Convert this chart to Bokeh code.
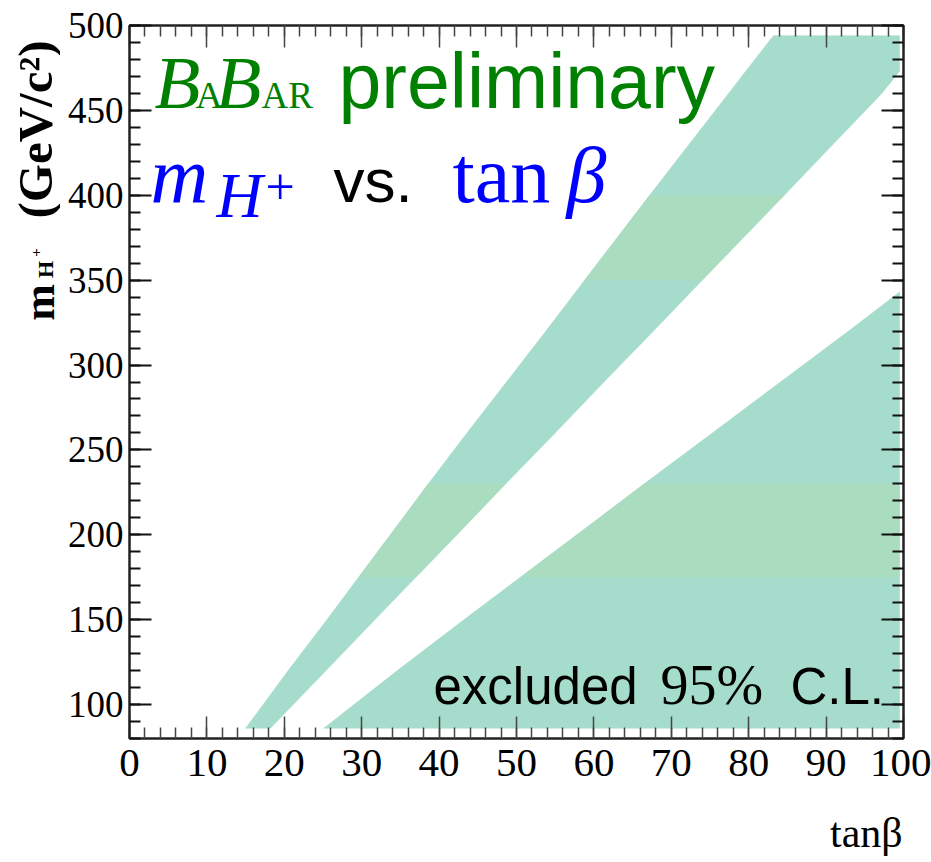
import numpy as np
from bokeh.plotting import figure
from bokeh.layouts import row
from bokeh.models import Range1d, LinearAxis, FixedTicker, Label
from bokeh.embed import file_html
from bokeh.resources import INLINE

# ---------------- data ----------------
# upper excluded band: for each m_H+ value, the tan(beta) of its left and right edges
upper_m = [86, 120, 150, 175, 200, 230, 260, 290, 320, 350, 375, 400, 430, 460, 473, 494]
upper_left = [15.0, 20.5, 25.5, 29.6, 33.7, 38.6, 43.6, 48.7, 53.8, 58.8, 63.0, 67.2, 72.3, 77.4, 79.6, 83.2]
upper_right = [18.2, 25.4, 31.7, 37.0, 42.3, 48.6, 55.0, 61.3, 67.7, 74.0, 79.3, 84.6, 90.9, 97.2, 99.5, 99.5]

# lower excluded region: left edge, right edge is the end of the scan
lower_m = [86, 120, 150, 175, 200, 230, 260, 290, 320, 343]
lower_left = [25.1, 34.6, 43.2, 50.5, 57.8, 66.5, 75.3, 84.1, 92.9, 99.5]
lower_right = [99.5, 99.5, 99.5, 99.5, 99.5, 99.5, 99.5, 99.5, 99.5, 99.5]

# m_H+ rows that are drawn in a slightly greener shade
greener_rows = [[175, 230], [350, 400]]

x_ticks = [0, 10, 20, 30, 40, 50, 60, 70, 80, 90, 100]
x_minor = list(range(0, 101, 2))
y_ticks = [100, 150, 200, 250, 300, 350, 400, 450, 500]
y_minor = list(range(80, 501, 10))
x_title = "tanβ"
x_title_at = 95.2   # tan(beta) value under which the x title is centred

BASE = "#a6dccb"
GREENER = "#aadcc0"
GREEN_TXT = "#008000"
BLUE_TXT = "#0000ff"

STRIP_W = 60
p = figure(width=931 - STRIP_W, height=862,
           x_range=Range1d(0, 100), y_range=Range1d(80, 500),
           output_backend="svg", toolbar_location=None,
           min_border_left=129 - STRIP_W, min_border_right=28,
           min_border_top=25, min_border_bottom=124)
p.xgrid.visible = False
p.ygrid.visible = False
p.outline_line_color = "#222222"
p.outline_line_width = 2
p.background_fill_color = "white"
p.border_fill_color = "white"


def band_piece(ms, lefts, rights, lo, hi):
    ms = np.asarray(ms, float)
    lo = max(lo, ms[0])
    hi = min(hi, ms[-1])
    inner = [m for m in ms if lo < m < hi]
    mm = np.array([lo] + inner + [hi])
    L = np.interp(mm, ms, lefts)
    R = np.interp(mm, ms, rights)
    xs = list(L) + list(R[::-1])
    ys = list(mm) + list(mm[::-1])
    return xs, ys


for ms, ls, rs in [(upper_m, upper_left, upper_right), (lower_m, lower_left, lower_right)]:
    xs, ys = band_piece(ms, ls, rs, ms[0], ms[-1])
    p.patch(xs, ys, fill_color=BASE, line_color=BASE, line_width=0.5)
    for lo, hi in greener_rows:
        if hi <= ms[0] or lo >= ms[-1]:
            continue
        xs, ys = band_piece(ms, ls, rs, lo, hi)
        p.patch(xs, ys, fill_color=GREENER, line_color=None)


def style_axis(ax, ticks, minor, labels, tick_w, tick_col):
    ax.ticker = FixedTicker(ticks=ticks, minor_ticks=minor)
    ax.major_tick_in = 22
    ax.major_tick_out = 0
    ax.minor_tick_in = 11
    ax.minor_tick_out = 0
    ax.axis_line_width = 2
    ax.axis_line_color = "#222222"
    ax.major_tick_line_width = tick_w
    ax.minor_tick_line_width = tick_w
    ax.major_tick_line_color = tick_col
    ax.minor_tick_line_color = tick_col
    if not labels:
        ax.major_label_overrides = {t: "" for t in ticks}
        ax.major_label_text_font_size = "1px"
        ax.major_label_standoff = 0


bottom = p.xaxis[0]
left = p.yaxis[0]
style_axis(bottom, x_ticks, x_minor, True, 1.5, "#444444")
style_axis(left, y_ticks, y_minor, True, 2, "#111111")
bottom.major_label_text_font = "Liberation Serif"
bottom.major_label_text_font_size = "41px"
bottom.major_label_text_color = "black"
bottom.major_label_standoff = 11
left.major_label_text_font = "Liberation Serif"
left.major_label_text_font_size = "37px"
left.major_label_text_color = "black"
left.major_label_standoff = 6

top = LinearAxis()
style_axis(top, x_ticks, x_minor, False, 1.5, "#444444")
p.add_layout(top, "above")
right = LinearAxis()
style_axis(right, y_ticks, y_minor, False, 2, "#111111")
p.add_layout(right, "right")

# x-axis title, right-aligned under the axis end: an outer axis with a single label
title_axis = LinearAxis(ticker=FixedTicker(ticks=[x_title_at], minor_ticks=[]),
                        major_label_overrides={x_title_at: x_title})
title_axis.axis_line_color = None
title_axis.major_tick_line_color = None
title_axis.minor_tick_line_color = None
title_axis.major_label_text_font = "Liberation Serif"
title_axis.major_label_text_font_size = "42px"
title_axis.major_label_text_color = "black"
title_axis.major_label_standoff = 25
p.add_layout(title_axis, "below")


# page pixel -> data coordinates for text placement inside the frame
def dx(px):
    return (px - 129) / 7.74


def dy(py):
    return 500 - (py - 25) / (713 / 420)


SHIFT = 0.35  # measured offset of the rendered baseline, in em


def plab(px, py, text, font, size, color, style="normal"):
    # px, py: left end of the text's baseline in page pixels
    p.add_layout(Label(x=dx(px), y=dy(py - SHIFT * size), text=text, text_font=font,
                       text_font_size=f"{size}px", text_font_style=style,
                       text_color=color, text_align="left",
                       text_baseline="alphabetic"))


# BaBar logo + "preliminary"
plab(154, 108, "B", "Liberation Serif", 75, GREEN_TXT, "italic")
plab(195, 108, "A", "Liberation Serif", 38, GREEN_TXT)
plab(215, 108, "B", "Liberation Serif", 75, GREEN_TXT, "italic")
plab(261, 108, "AR", "Liberation Serif", 37, GREEN_TXT)
plab(338, 107, "preliminary", "Liberation Sans", 77, GREEN_TXT)

# m_H+ vs. tan beta
plab(150, 202, "m", "Liberation Serif", 80, BLUE_TXT, "italic")
plab(216, 217, "H", "Liberation Serif", 64, BLUE_TXT, "italic")
plab(265, 204, "+", "Liberation Serif", 52, BLUE_TXT)
plab(333, 202, "vs.", "Liberation Sans", 62, "black")
plab(452, 202, "tan", "Liberation Serif", 80, BLUE_TXT)
plab(566, 202, "β", "Liberation Serif", 80, BLUE_TXT, "italic")

# excluded 95% C.L.
plab(433, 704, "excluded", "Liberation Sans", 51, "black")
plab(660, 704, "95%", "Liberation Serif", 56, "black")
plab(790, 704, "C.L.", "Liberation Sans", 51, "black")

# y-axis title in its own narrow strip; its frame is aligned with the main
# frame (page y 25..738) and its data coords are page pixels
strip = figure(width=STRIP_W, height=862, frame_width=STRIP_W, frame_height=713,
               x_range=Range1d(0, STRIP_W), y_range=Range1d(738, 25),
               x_axis_type=None, y_axis_type=None,
               output_backend="svg", toolbar_location=None,
               min_border_left=0, min_border_right=0,
               min_border_top=25, min_border_bottom=124)
strip.outline_line_color = None
strip.background_fill_color = "white"
strip.border_fill_color = "white"


def slab(cx, cy, text, size, style="bold"):
    # cx, cy: centre of the rotated text in page pixels
    strip.add_layout(Label(x=cx, y=cy, text=text, text_font="Liberation Serif",
                           text_font_size=f"{size}px", text_font_style=style,
                           text_color="black", text_align="center",
                           text_baseline="middle", angle=np.pi / 2))


slab(39, 302, "m", 44)
slab(45, 269, "H", 22)
slab(35, 252, "+", 15)
slab(35, 129, "(GeV/c²)", 49)

layout = row(strip, p, spacing=0)
open("out.html", "w").write(file_html(layout, INLINE))
